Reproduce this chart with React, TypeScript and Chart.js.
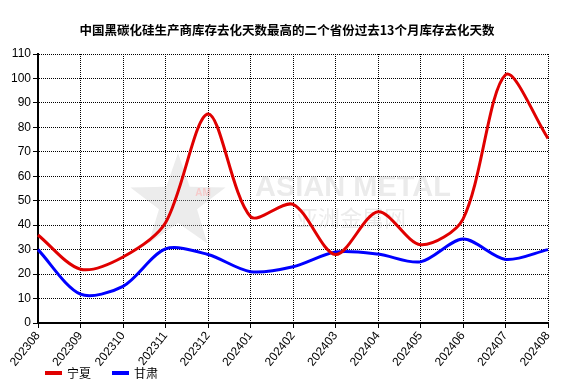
import React, { useEffect, useRef } from "react";
import { Chart, registerables } from "chart.js";

Chart.register(...registerables);

const TITLE = "中国黑碳化硅生产商库存去化天数最高的二个省份过去13个月库存去化天数";
const categories = ["202308","202309","202310","202311","202312","202401","202402","202403","202404","202405","202406","202407","202408"];
const ningxia = [36, 22, 27, 41, 85.5, 43.5, 48.5, 28, 45.5, 32, 42.5, 101.5, 75.5];
const gansu = [30, 11.8, 15, 30.3, 28, 21, 23, 29, 28.2, 25, 34.3, 26, 30];
const seriesNames = ["宁夏", "甘肃"];
const seriesColors = ["#e00000", "#0000ff"];
const yTicks = { min: 0, max: 110, step: 10 };

const FONT = "'Liberation Sans', Arial, 'Noto Sans CJK SC', sans-serif";

const titlePlugin = {
  id: "customTitle",
  afterDraw(chart: any) {
    const ctx = chart.ctx;
    ctx.save();
    ctx.font = "bold 12.5px 'Noto Sans CJK SC', " + FONT;
    ctx.fillStyle = "#000";
    ctx.textAlign = "center";
    ctx.textBaseline = "middle";
    ctx.fillText(TITLE, 287, 30);
    ctx.restore();
  },
};

const watermark = {
  id: "watermark",
  beforeDatasetsDraw(chart: any) {
    const ctx = chart.ctx;
    ctx.save();
    const cx = 178, cy = 203, R = 50, r = 20;
    ctx.beginPath();
    for (let i = 0; i < 10; i++) {
      const ang = -Math.PI / 2 + (i * Math.PI) / 5;
      const rad = i % 2 === 0 ? R : r;
      const px = cx + rad * Math.cos(ang);
      const py = cy + rad * Math.sin(ang);
      if (i === 0) ctx.moveTo(px, py);
      else ctx.lineTo(px, py);
    }
    ctx.closePath();
    ctx.fillStyle = "rgba(200,200,200,0.35)";
    ctx.fill();
    ctx.fillStyle = "rgba(255,170,170,0.5)";
    ctx.font = "bold 10px " + FONT;
    ctx.textAlign = "center";
    ctx.textBaseline = "middle";
    ctx.fillText("AM", 203, 193);
    ctx.fillStyle = "rgba(205,205,205,0.4)";
    ctx.font = "bold 29px " + FONT;
    ctx.textAlign = "left";
    ctx.fillText("ASIAN METAL", 255, 188);
    ctx.font = "22px 'Noto Sans CJK SC', sans-serif";
    ctx.fillText("亚洲金属网", 296, 218);
    ctx.restore();
  },
};

const customLegend = {
  id: "customLegend",
  afterDraw(chart: any) {
    const ctx = chart.ctx;
    ctx.save();
    ctx.font = "12px 'Noto Sans CJK SC', " + FONT;
    ctx.textBaseline = "middle";
    let x = 45;
    const y = 373;
    chart.data.datasets.forEach((ds: any) => {
      ctx.fillStyle = ds.borderColor;
      ctx.fillRect(x, y - 2, 17, 4);
      ctx.fillStyle = "#000";
      ctx.textAlign = "left";
      ctx.fillText(ds.label, x + 22, y);
      x += 67;
    });
    ctx.restore();
  },
};

export default function App() {
  const ref = useRef<HTMLCanvasElement | null>(null);
  useEffect(() => {
    document.body.style.margin = "0";
    const gridOpts = {
      color: "#000",
      lineWidth: 1,
      tickLength: 5,
      tickBorderDash: [],
      tickColor: "#000",
      tickWidth: 1,
    };
    const borderOpts = { display: true, color: "#000", width: 2, dash: [1, 1] };
    const chart = new Chart(ref.current!, {
      type: "line",
      data: {
        labels: categories,
        datasets: [ningxia, gansu].map((d, i) => ({
          label: seriesNames[i],
          data: d,
          borderColor: seriesColors[i],
          backgroundColor: seriesColors[i],
          borderWidth: 3,
          pointRadius: 0,
          tension: 0.3,
          fill: false,
        })),
      },
      options: {
        animation: false,
        responsive: false,
        layout: { padding: { left: 0, right: 18, top: 54, bottom: 0 } },
        plugins: {
          legend: { display: false },
          tooltip: { enabled: false },
          title: { display: false },
        },
        scales: {
          x: {
            offset: false,
            grid: gridOpts,
            border: borderOpts,
            ticks: {
              color: "#000",
              font: { size: 12, family: FONT },
              maxRotation: 51,
              minRotation: 51,
              padding: 1,
              autoSkip: false,
            },
            afterFit(scale: any) {
              scale.height = 66;
            },
          },
          y: {
            min: yTicks.min,
            max: yTicks.max,
            grid: gridOpts,
            border: borderOpts,
            ticks: {
              stepSize: yTicks.step,
              color: "#000",
              font: { size: 12, family: FONT },
              padding: 2,
            },
            afterFit(scale: any) {
              scale.width = 38;
            },
          },
        },
      },
      plugins: [watermark, customLegend, titlePlugin],
    });
    return () => chart.destroy();
  }, []);
  return <canvas ref={ref} width={566} height={389} style={{ display: "block" }} />;
}
